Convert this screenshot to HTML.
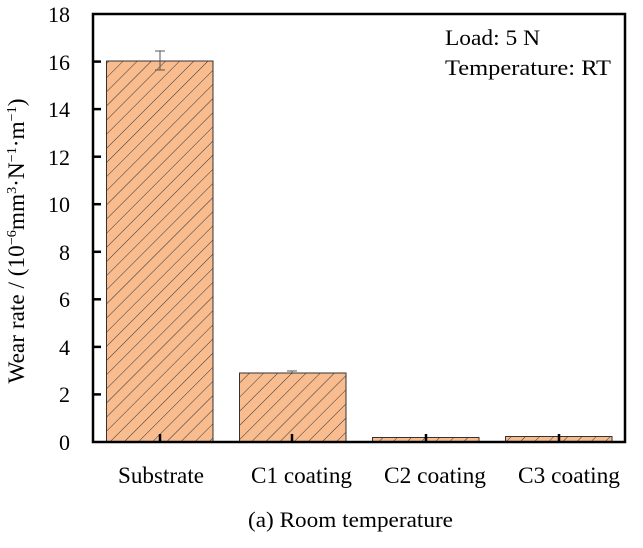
<!DOCTYPE html>
<html><head><style>body{margin:0;background:#fff}</style></head><body>
<svg width="643" height="543" xmlns="http://www.w3.org/2000/svg" font-family="Liberation Serif, serif">
<defs>
<pattern id="h" patternUnits="userSpaceOnUse" width="10" height="10" patternTransform="rotate(45)">
<rect width="10" height="10" fill="#f8bc8f"/>
<line x1="0" y1="0" x2="0" y2="10" stroke="#333" stroke-width="1"/>
</pattern>
</defs>
<g stroke="#333" stroke-width="1">
<rect x="106.5" y="61" width="106.5" height="381" fill="url(#h)"/>
<rect x="239.5" y="373" width="106.5" height="69" fill="url(#h)"/>
<rect x="372.5" y="437.5" width="106.5" height="4.5" fill="url(#h)"/>
<rect x="505.5" y="436.5" width="106.5" height="5.5" fill="url(#h)"/>
</g>
<g stroke="#555" stroke-width="1">
<line x1="160" y1="51" x2="160" y2="70"/><line x1="155" y1="51" x2="165" y2="51"/><line x1="155" y1="70" x2="165" y2="70"/>
<line x1="292" y1="371" x2="292" y2="374"/><line x1="287" y1="371" x2="297" y2="371"/>
</g>
<g stroke="#000" stroke-width="2.5" fill="none">
<rect x="93" y="14" width="532" height="428"/>
</g>
<g stroke="#000" stroke-width="2.5">
<line x1="93" y1="394.4" x2="101" y2="394.4"/>
<line x1="93" y1="346.9" x2="101" y2="346.9"/>
<line x1="93" y1="299.3" x2="101" y2="299.3"/>
<line x1="93" y1="251.8" x2="101" y2="251.8"/>
<line x1="93" y1="204.2" x2="101" y2="204.2"/>
<line x1="93" y1="156.7" x2="101" y2="156.7"/>
<line x1="93" y1="109.1" x2="101" y2="109.1"/>
<line x1="93" y1="61.6" x2="101" y2="61.6"/>
<line x1="160" y1="442" x2="160" y2="434"/>
<line x1="292" y1="442" x2="292" y2="434"/>
<line x1="426" y1="442" x2="426" y2="434"/>
<line x1="559" y1="442" x2="559" y2="434"/>
</g>
<g font-size="22" text-anchor="end" fill="#000">
<text x="70" y="450">0</text><text x="70" y="402">2</text><text x="70" y="355">4</text><text x="70" y="307">6</text><text x="70" y="260">8</text><text x="70" y="212">10</text><text x="70" y="165">12</text><text x="70" y="117">14</text><text x="70" y="70">16</text><text x="70" y="22">18</text>
</g>
<g font-size="23" fill="#000">
<text x="118" y="483" textLength="86" lengthAdjust="spacingAndGlyphs">Substrate</text>
<text x="251" y="483" textLength="101" lengthAdjust="spacingAndGlyphs">C1 coating</text>
<text x="384" y="483" textLength="102" lengthAdjust="spacingAndGlyphs">C2 coating</text>
<text x="518" y="483" textLength="102" lengthAdjust="spacingAndGlyphs">C3 coating</text>
<text x="248" y="527" font-size="22" textLength="205" lengthAdjust="spacingAndGlyphs">(a) Room temperature</text>
</g>
<g font-size="22" fill="#000">
<text x="445" y="45" textLength="95" lengthAdjust="spacingAndGlyphs">Load: 5 N</text>
<text x="445" y="75" textLength="166" lengthAdjust="spacingAndGlyphs">Temperature:  RT</text>
</g>
<text transform="translate(24,241) rotate(-90)" font-size="23" text-anchor="middle" textLength="285" lengthAdjust="spacingAndGlyphs">Wear rate / (10<tspan font-size="14" dy="-8">−6</tspan><tspan dy="8">mm</tspan><tspan font-size="14" dy="-8">3</tspan><tspan dy="8">·N</tspan><tspan font-size="14" dy="-8">−1</tspan><tspan dy="8">·m</tspan><tspan font-size="14" dy="-8">−1</tspan><tspan dy="8">)</tspan></text>
</svg>
</body></html>
